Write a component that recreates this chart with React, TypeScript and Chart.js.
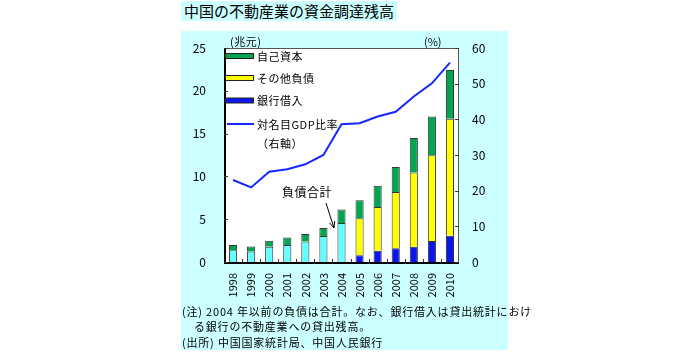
import React, { useEffect, useRef } from "react";
import { Chart, registerables } from "chart.js";

Chart.register(...registerables);

const years = ["1998", "1999", "2000", "2001", "2002", "2003", "2004", "2005", "2006", "2007", "2008", "2009", "2010"];
// 負債合計 (2004年以前)
const totalDebt = [1.38, 1.22, 1.77, 2.0, 2.4, 3.03, 4.57, null, null, null, null, null, null];
// 銀行借入
const bankLoans = [null, null, null, null, null, null, null, 0.79, 1.3, 1.61, 1.77, 2.44, 3.07];
// その他負債
const otherLiabilities = [null, null, null, null, null, null, null, 4.33, 5.12, 6.58, 8.7, 10.04, 13.66];
// 自己資本
const equity = [0.62, 0.59, 0.71, 0.87, 0.87, 0.95, 1.57, 2.08, 2.48, 2.91, 4.02, 4.52, 5.71];
// 対名目GDP比率 (%)
const gdpRatio = [23.0, 20.9, 25.3, 26.0, 27.4, 30.0, 38.6, 38.9, 40.8, 42.1, 46.4, 50.1, 55.9];

const leftTicks = [0, 5, 10, 15, 20, 25];
const rightTicks = [0, 10, 20, 30, 40, 50, 60];

const FONT = '"Noto Sans CJK JP", "Noto Sans", sans-serif';
const CYAN_BG = "#ccffff";
const C_GREEN = "#00a550";
const C_YELLOW = "#ffff00";
const C_BLUE = "#0a14f0";
const C_CYAN = "#66ffff";
const C_LINE = "#1428ff";

const decorPlugin = {
  id: "decor",
  beforeDraw(chart: any) {
    const { ctx, chartArea: a } = chart;
    ctx.save();
    ctx.fillStyle = "#ffffff";
    ctx.fillRect(a.left, a.top, a.right - a.left, a.bottom - a.top);
    ctx.restore();
  },
  afterDraw(chart: any) {
    const { ctx, chartArea: a, scales } = chart;
    ctx.save();
    // frame
    ctx.strokeStyle = "#555";
    ctx.lineWidth = 1;
    ctx.strokeRect(a.left + 0.5, a.top + 0.5, a.right - a.left - 1, a.bottom - a.top);
    ctx.strokeStyle = "#000";
    ctx.lineWidth = 2;
    ctx.beginPath();
    ctx.moveTo(a.left + 1, a.top);
    ctx.lineTo(a.left + 1, a.bottom + 1);
    ctx.lineTo(a.right, a.bottom + 1);
    ctx.stroke();
    // inside ticks
    ctx.lineWidth = 1;
    ctx.strokeStyle = "#333";
    ctx.beginPath();
    for (const v of leftTicks) {
      const y = Math.round(scales.y.getPixelForValue(v)) + 0.5;
      ctx.moveTo(a.left, y);
      ctx.lineTo(a.left + 4, y);
    }
    for (const v of rightTicks) {
      const y = Math.round(scales.y2.getPixelForValue(v)) + 0.5;
      ctx.moveTo(a.right - 4, y);
      ctx.lineTo(a.right, y);
    }
    for (let i = 1; i < years.length; i++) {
      const x = Math.round((scales.x.getPixelForValue(i - 1) + scales.x.getPixelForValue(i)) / 2) + 0.5;
      ctx.moveTo(x, a.bottom);
      ctx.lineTo(x, a.bottom - 3);
    }
    ctx.stroke();

    // legend
    const lx = a.left + 1;
    const tx = a.left + 33;
    ctx.font = "11px " + FONT;
    try { (ctx as any).letterSpacing = "0.5px"; } catch (e) {}
    ctx.textBaseline = "middle";
    ctx.textAlign = "left";
    const rows: [string, string, number][] = [
      ["自己資本", C_GREEN, 8],
      ["その他負債", C_YELLOW, 30],
      ["銀行借入", C_BLUE, 52.5],
    ];
    for (const [label, color, dy] of rows) {
      const cy = a.top + dy;
      ctx.fillStyle = color;
      ctx.fillRect(lx, cy - 2.5, 28, 5);
      ctx.strokeStyle = "#222";
      ctx.lineWidth = 1;
      ctx.strokeRect(lx + 0.5, cy - 2.5, 28, 5);
      ctx.fillStyle = "#000";
      ctx.fillText(label, tx, cy + 0.5);
    }
    const ly = a.top + 76;
    ctx.strokeStyle = C_LINE;
    ctx.lineWidth = 2;
    ctx.beginPath();
    ctx.moveTo(lx + 2, ly);
    ctx.lineTo(lx + 29, ly);
    ctx.stroke();
    ctx.fillStyle = "#000";
    ctx.fillText("対名目GDP比率", tx, ly + 0.5);
    ctx.fillText("（右軸）", tx, a.top + 95.5);

    // annotation
    ctx.font = "12px " + FONT;
    ctx.textAlign = "center";
    ctx.fillText("負債合計", 307, 192);
    try { (ctx as any).letterSpacing = "0px"; } catch (e) {}
    ctx.strokeStyle = "#000";
    ctx.lineWidth = 1;
    const x1 = 326, y1 = 203, x2 = 334, y2 = 228;
    ctx.beginPath();
    ctx.moveTo(x1, y1);
    ctx.lineTo(x2, y2);
    ctx.stroke();
    const ang = Math.atan2(y2 - y1, x2 - x1);
    ctx.beginPath();
    ctx.moveTo(x2, y2);
    ctx.lineTo(x2 - 7 * Math.cos(ang - 0.4), y2 - 7 * Math.sin(ang - 0.4));
    ctx.moveTo(x2, y2);
    ctx.lineTo(x2 - 7 * Math.cos(ang + 0.4), y2 - 7 * Math.sin(ang + 0.4));
    ctx.stroke();
    ctx.restore();
  },
};

export default function App() {
  const ref = useRef<HTMLCanvasElement | null>(null);

  useEffect(() => {
    if (!ref.current) return;
    const barCommon = {
      type: "bar" as const,
      yAxisID: "y",
      borderColor: "#333333",
      borderWidth: { top: 1, left: 1, right: 1, bottom: 0 },
      borderSkipped: false,
      barPercentage: 0.5,
      categoryPercentage: 0.9,
      order: 1,
    };
    const chart = new Chart(ref.current, {
      type: "bar",
      data: {
        labels: years,
        datasets: [
          { ...barCommon, label: "銀行借入", data: bankLoans, backgroundColor: C_BLUE },
          { ...barCommon, label: "負債合計", data: totalDebt, backgroundColor: C_CYAN },
          { ...barCommon, label: "その他負債", data: otherLiabilities, backgroundColor: C_YELLOW },
          { ...barCommon, label: "自己資本", data: equity, backgroundColor: C_GREEN },
          {
            type: "line",
            label: "対名目GDP比率",
            data: gdpRatio,
            yAxisID: "y2",
            borderColor: C_LINE,
            borderWidth: 2,
            pointRadius: 0,
            tension: 0,
            fill: false,
            order: 0,
          } as any,
        ],
      },
      options: {
        responsive: false,
        animation: false,
        layout: { padding: { left: 180, right: 182, top: 48, bottom: 0 } },
        plugins: { legend: { display: false }, tooltip: { enabled: false }, title: { display: false } },
        scales: {
          x: {
            stacked: true,
            grid: { display: false, drawTicks: false },
            border: { display: false },
            ticks: {
              minRotation: 90,
              maxRotation: 90,
              padding: 11,
              color: "#000",
              font: { family: FONT, size: 11 },
              autoSkip: false,
            },
            afterFit: (s: any) => {
              s.height = 92;
            },
          },
          y: {
            stacked: true,
            position: "left",
            min: 0,
            max: 25,
            grid: { display: false, drawTicks: false },
            border: { display: false },
            ticks: {
              stepSize: 5,
              padding: 18,
              color: "#000",
              font: { family: FONT, size: 12 },
            },
            afterFit: (s: any) => {
              s.width = 44;
            },
          },
          y2: {
            stacked: false,
            position: "right",
            min: 0,
            max: 60,
            grid: { display: false, drawTicks: false },
            border: { display: false },
            ticks: {
              stepSize: 10,
              padding: 13,
              color: "#000",
              font: { family: FONT, size: 12 },
            },
            afterFit: (s: any) => {
              s.width = 49;
            },
          },
        },
      } as any,
      plugins: [decorPlugin],
    });
    return () => chart.destroy();
  }, []);

  const abs = (l: number, t: number): React.CSSProperties => ({
    position: "absolute",
    left: l,
    top: t,
    whiteSpace: "nowrap",
    fontFamily: FONT,
    color: "#000",
  });

  const note: React.CSSProperties = { fontSize: 11, lineHeight: "14px", letterSpacing: "0.8px" };

  return (
    <div style={{ position: "absolute", left: 0, top: 0, width: 690, height: 354, background: "#fff", overflow: "hidden" }}>
      <div style={{ ...abs(181, 1), width: 216, height: 20, background: CYAN_BG, fontSize: 15, lineHeight: "20px", paddingLeft: 3, boxSizing: "border-box" }}>
        中国の不動産業の資金調達残高
      </div>
      <div style={{ position: "absolute", left: 181, top: 31, width: 327, height: 319, background: CYAN_BG }} />
      <canvas ref={ref} width={690} height={354} style={{ position: "absolute", left: 0, top: 0 }} />
      <div style={{ ...abs(230, 34), fontSize: 11, lineHeight: "14px", letterSpacing: "0.5px" }}>(兆元)</div>
      <div style={{ ...abs(424, 34), fontSize: 11, lineHeight: "14px" }}>(%)</div>
      <div style={{ ...abs(182, 304), ...note }}>(注) 2004 年以前の負債は合計。なお、銀行借入は貸出統計におけ</div>
      <div style={{ ...abs(194, 319), ...note }}>る銀行の不動産業への貸出残高。</div>
      <div style={{ ...abs(182, 335), ...note }}>(出所) 中国国家統計局、中国人民銀行</div>
    </div>
  );
}
